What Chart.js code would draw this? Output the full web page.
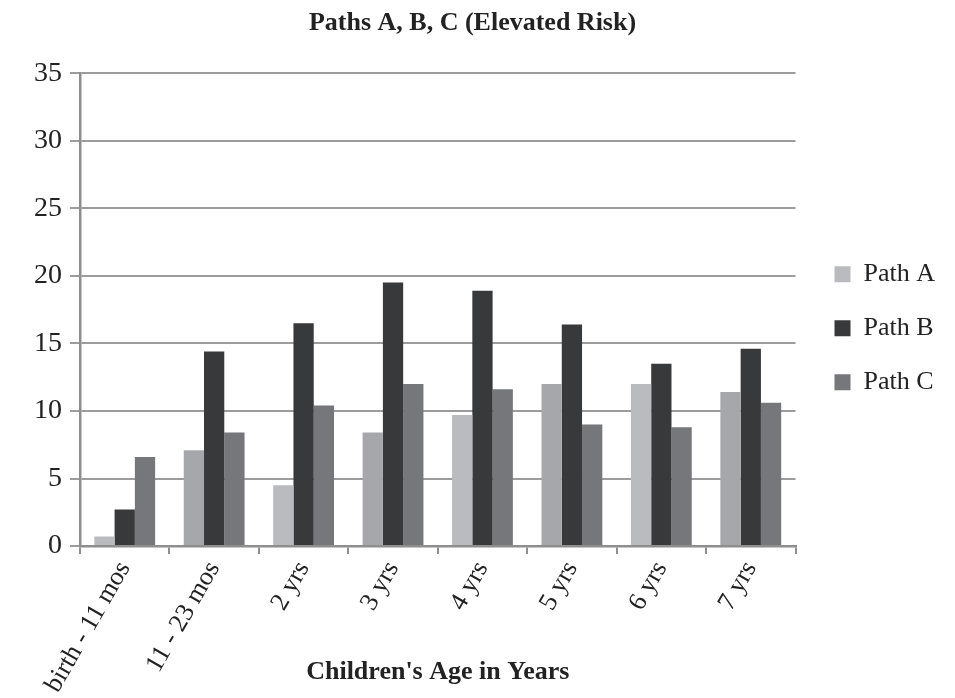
<!DOCTYPE html>
<html>
<head>
<meta charset="utf-8">
<script src="https://cdn.jsdelivr.net/npm/chart.js@4/dist/chart.umd.min.js"></script>
<style>
  html, body { margin: 0; padding: 0; background: #ffffff; }
  #wrap { width: 955px; height: 698px; }
</style>
</head>
<body>
<div id="wrap"><canvas id="chart" width="955" height="698"></canvas></div>
<script>
// Age groups on the x axis
const categories = ['birth - 11 mos', '11 - 23 mos', '2 yrs', '3 yrs', '4 yrs', '5 yrs', '6 yrs', '7 yrs'];

// Values per path
const pathA = [0.7, 7.1, 4.5, 8.4, 9.7, 12.0, 12.0, 11.4];
const pathB = [2.7, 14.4, 16.5, 19.5, 18.9, 16.4, 13.5, 14.6];
const pathC = [6.6, 8.4, 10.4, 12.0, 11.6, 9.0, 8.8, 10.6];

// Value axis ticks
const yTicks = [0, 5, 10, 15, 20, 25, 30, 35];

const serif = "'Liberation Serif', 'Times New Roman', Times, serif";
const ink = '#222222';
const axisGrey = '#8e8e8e';

// Path A bars alternate between two light greys
const pathAShades = categories.map((_, i) => (i % 2 === 0 ? '#babbbe' : '#a6a7aa'));

new Chart(document.getElementById('chart'), {
  type: 'bar',
  data: {
    labels: categories,
    datasets: [
      { label: 'Path A', data: pathA, backgroundColor: pathAShades },
      { label: 'Path B', data: pathB, backgroundColor: '#38393b' },
      { label: 'Path C', data: pathC, backgroundColor: '#76777b' }
    ]
  },
  options: {
    responsive: false,
    animation: false,
    layout: { padding: { left: 0, right: 10, top: 0, bottom: 0 } },
    datasets: { bar: { categoryPercentage: 0.68, barPercentage: 1.0 } },
    font: { family: serif },
    plugins: {
      title: {
        display: true,
        text: 'Paths A, B, C (Elevated Risk)',
        color: ink,
        font: { family: serif, size: 26, weight: 'bold' },
        padding: { top: 8, bottom: 34 }
      },
      legend: {
        position: 'right',
        fullSize: false,
        // empty heading keeps the key a little below the plot's middle
        title: { display: true, text: '', padding: 3, font: { family: serif, size: 26 } },
        labels: {
          boxWidth: 16,
          boxHeight: 16,
          padding: 28,
          color: ink,
          font: { family: serif, size: 26 }
        }
      },
      tooltip: { enabled: false }
    },
    scales: {
      x: {
        grid: {
          offset: true,
          drawOnChartArea: false,
          drawTicks: true,
          tickLength: 8,
          color: axisGrey,
          lineWidth: 2
        },
        border: { color: axisGrey, width: 2.5 },
        ticks: {
          autoSkip: false,
          minRotation: 60,
          maxRotation: 60,
          padding: 2,
          color: ink,
          font: { family: serif, size: 26 }
        },
        title: {
          display: true,
          text: "Children's Age in Years",
          color: ink,
          font: { family: serif, size: 26, weight: 'bold' },
          padding: { top: -43, bottom: 10 }
        }
      },
      y: {
        min: 0,
        max: 35,
        afterBuildTicks: (scale) => { scale.ticks = yTicks.map(v => ({ value: v })); },
        afterFit: (scale) => { scale.width = 80; },
        ticks: {
          padding: 8,
          color: ink,
          font: { family: serif, size: 28 }
        },
        grid: {
          color: '#9c9c9c',
          lineWidth: 2,
          drawTicks: true,
          tickLength: 10
        },
        border: { color: axisGrey, width: 2.5 }
      },
      // blank strip between the plot and the key
      gap: {
        type: 'linear',
        position: 'right',
        display: true,
        grid: { display: false },
        ticks: { display: false },
        border: { display: false },
        afterFit: (scale) => { scale.width = 11; }
      }
    }
  }
});
</script>
</body>
</html>
